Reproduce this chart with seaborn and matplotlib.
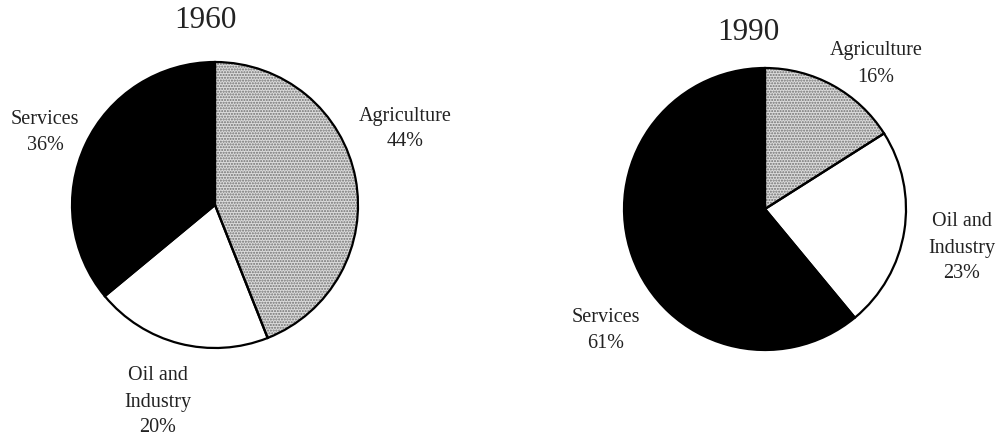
import matplotlib
matplotlib.use("Agg")
import matplotlib.pyplot as plt
from matplotlib.patches import Wedge
import seaborn as sns

# Shares of employment by sector (%)
sectors = ["Agriculture", "Oil and\nIndustry", "Services"]
shares_1960 = [44, 20, 36]
shares_1990 = [16, 23, 61]
years = ["1960", "1990"]

sns.set_theme(style="white")
plt.rcParams["font.family"] = ["Liberation Serif", "DejaVu Serif"]
plt.rcParams["hatch.linewidth"] = 1.0

W, H = 1002, 441
fig = plt.figure(figsize=(W / 100, H / 100), dpi=100)
fig.patch.set_facecolor("white")

fills = ["#dcdcdc", "white", "black"]
hatches = ["......", None, None]
stipple_color = "#707070"
text_color = "#222222"
pad = 1.03


def px(x, y):
    return x / W, 1 - y / H


def draw_pie(cx, cy, r, values):
    half = r * pad
    ax = fig.add_axes([(cx - half) / W, 1 - (cy + half) / H, 2 * half / W, 2 * half / H])
    wedges, _ = ax.pie(values, colors=fills, startangle=90, counterclock=False,
                       wedgeprops=dict(edgecolor="black", linewidth=1.6))
    for w, h in zip(wedges, hatches):
        if h:
            # grey stipple inside, black outline drawn on top
            w.set_hatch(h)
            w.set_edgecolor(stipple_color)
            w.set_linewidth(0)
            ax.add_patch(Wedge(w.center, w.r, w.theta1, w.theta2, fill=False,
                               edgecolor="black", linewidth=1.6, zorder=w.get_zorder() + 1))
    ax.set_xlim(-pad, pad)
    ax.set_ylim(-pad, pad)
    ax.set_aspect("equal")
    ax.axis("off")
    return ax


draw_pie(215, 205, 143, shares_1960)
draw_pie(765, 209, 141, shares_1990)

# Year titles
fig.text(*px(205, 21), years[0], ha="center", va="center", fontsize=22.5, color=text_color)
fig.text(*px(748, 32), years[1], ha="center", va="center", fontsize=22.5, color=text_color)

# Sector labels with their percentages
label_pos_1960 = [(405, 129), (158, 402), (45, 132)]
label_pos_1990 = [(876, 64), (962, 248), (606, 330)]
for names, vals, positions in ((sectors, shares_1960, label_pos_1960),
                               (sectors, shares_1990, label_pos_1990)):
    for name, v, (x, y) in zip(names, vals, positions):
        fig.text(*px(x, y), f"{name}\n{v}%", ha="center", va="center",
                 fontsize=14.5, linespacing=1.5, color=text_color)

fig.savefig("out.png", dpi=100, facecolor="white")
